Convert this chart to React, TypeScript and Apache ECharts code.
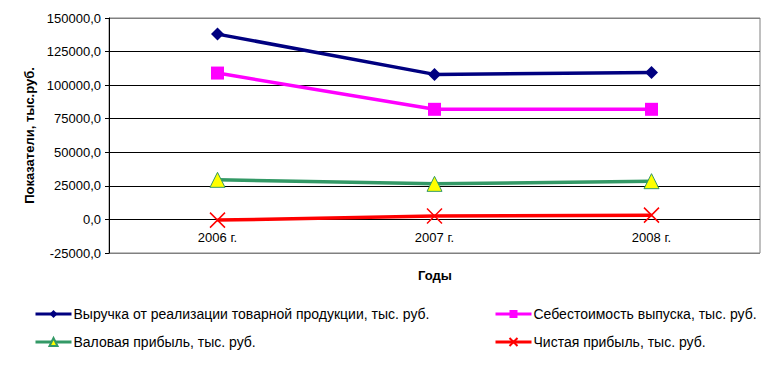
import React, { useEffect, useRef } from "react";
import * as echarts from "echarts";

const years = ["2006 г.", "2007 г.", "2008 г."];
const seriesNames = [
  "Выручка от реализации товарной продукции, тыс. руб.",
  "Себестоимость выпуска, тыс. руб.",
  "Валовая прибыль, тыс. руб.",
  "Чистая прибыль, тыс. руб.",
];
const revenue = [138000, 108000, 109500];
const cost = [109000, 82000, 82000];
const grossProfit = [29500, 26500, 28500];
const netProfit = [-500, 2500, 3200];
const xTitle = "Годы";
const yTitle = "Показатели, тыс.руб.";

const FONT = "'Liberation Sans', Arial, sans-serif";
const CROSS = "path://M0,0L10,10M10,0L0,10";

export default function App() {
  const ref = useRef<HTMLDivElement>(null);
  useEffect(() => {
    document.body.style.margin = "0";
    const chart = echarts.init(ref.current!, null, { renderer: "svg" });
    const lineSeries = (
      name: string,
      data: number[],
      color: string,
      symbol: string,
      symbolSize: number,
      itemStyle: any
    ) => ({
      type: "line",
      name,
      data,
      symbol,
      symbolSize,
      showAllSymbol: true,
      lineStyle: { color, width: 3.5 },
      itemStyle,
      emphasis: { disabled: true },
    });
    const legendBase = {
      orient: "vertical",
      top: 307,
      padding: 0,
      itemWidth: 36,
      itemHeight: 10,
      itemGap: 14,
      lineStyle: { width: 3 },
      textStyle: { fontSize: 14, color: "#000", fontFamily: FONT, padding: [0, 0, 0, -3] },
      selectedMode: false,
    };
    chart.setOption({
      animation: false,
      backgroundColor: "#ffffff",
      textStyle: { fontFamily: FONT },
      grid: {
        left: 109,
        right: 9,
        top: 18,
        bottom: 114,
        show: true,
        borderColor: "#808080",
        borderWidth: 1,
        backgroundColor: "transparent",
      },
      graphic: [
        {
          type: "text",
          x: 435,
          y: 275,
          style: {
            text: xTitle,
            fontSize: 13,
            fontWeight: "bold",
            fill: "#000",
            fontFamily: FONT,
            align: "center",
            verticalAlign: "middle",
          },
        },
      ],
      legend: [
        { ...legendBase, data: [seriesNames[0], seriesNames[2]], left: 34 },
        { ...legendBase, data: [seriesNames[1], seriesNames[3]], left: 494 },
      ],
      xAxis: {
        type: "category",
        data: years,
        boundaryGap: true,
        axisLine: { show: false, onZero: false },
        axisTick: { show: false },
        axisLabel: {
          fontSize: 13,
          color: "#000",
          margin: -16,
          verticalAlign: "middle",
          fontFamily: FONT,
        },
        splitLine: { show: false },
      },
      yAxis: {
        type: "value",
        min: -25000,
        max: 150000,
        interval: 25000,
        name: yTitle,
        nameLocation: "middle",
        nameGap: 71,
        nameRotate: 90,
        nameTextStyle: { fontSize: 13, fontWeight: "bold", color: "#000", fontFamily: FONT },
        axisLine: { show: true, lineStyle: { color: "#000", width: 1 } },
        axisTick: { show: true, length: 4, lineStyle: { color: "#000" } },
        axisLabel: {
          fontSize: 13,
          color: "#000",
          margin: 8,
          fontFamily: FONT,
          formatter: (v: number) => v.toFixed(1).replace(".", ","),
        },
        splitLine: {
          show: true,
          lineStyle: {
            color: ["#808080", "#000", "#000", "#000", "#000", "#000", "#000", "#808080"],
            width: 1,
          },
        },
      },
      series: [
        lineSeries(seriesNames[0], revenue, "#000080", "diamond", 13, {
          color: "#000080",
        }),
        lineSeries(seriesNames[1], cost, "#ff00ff", "rect", 13, {
          color: "#ff00ff",
        }),
        lineSeries(seriesNames[2], grossProfit, "#339966", "triangle", 15, {
          color: "#ffff00",
          borderColor: "#339966",
          borderWidth: 1,
        }),
        lineSeries(seriesNames[3], netProfit, "#ff0000", CROSS, 15, {
          color: "transparent",
          borderColor: "#ff0000",
          borderWidth: 1.5,
        }),
      ],
    });
    return () => chart.dispose();
  }, []);
  return (
    <div
      ref={ref}
      style={{ position: "fixed", left: 0, top: 0, width: 769, height: 367 }}
    />
  );
}
